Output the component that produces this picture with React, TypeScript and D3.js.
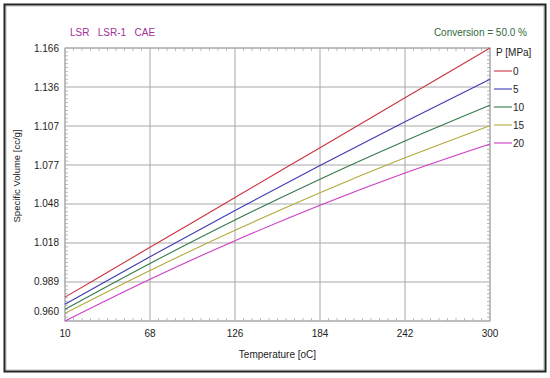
import React from "react";
import * as d3 from "d3";

const temperatures = [10, 68, 126, 184, 242, 300];
const xTickLabels = ["10", "68", "126", "184", "242", "300"];
const yTickValues = [0.96, 0.98943, 1.01886, 1.04829, 1.07771, 1.10714, 1.13657, 1.166];
const yTickLabels = ["0.960", "0.989", "1.018", "1.048", "1.077", "1.107", "1.136", "1.166"];
const pressures = ["0", "5", "10", "15", "20"];
const series0 = [0.978, 1.0156, 1.0532, 1.0908, 1.1284, 1.166];
const series5 = [0.9726, 1.0085, 1.0434, 1.0774, 1.1103, 1.1424];
const series10 = [0.9688, 1.0034, 1.0362, 1.067, 1.0958, 1.1228];
const series15 = [0.9658, 0.9981, 1.0284, 1.0568, 1.0831, 1.1074];
const series20 = [0.96, 0.9915, 1.0206, 1.0474, 1.0717, 1.0936];
const seriesColors = ["#cc3340", "#3b3bb4", "#347a4c", "#b2aa3c", "#cc3cc4"];
const allSeries = [series0, series5, series10, series15, series20];

const W = 550, H = 378;
const L = 65, R = 490, T = 48, B = 321;

export default function App() {
  const x = d3.scaleLinear().domain([10, 300]).range([L, R]);
  const y = d3.scaleLinear().domain([0.96, 1.166]).range([B, T]);
  const line = d3
    .line<number>()
    .x((_, i) => x(temperatures[i]))
    .y((d) => y(d))
    .curve(d3.curveMonotoneX);

  const xMinor: number[] = [];
  for (let i = 0; i < temperatures.length - 1; i++) {
    for (let k = 1; k < 10; k++) xMinor.push(temperatures[i] + (k * (temperatures[i + 1] - temperatures[i])) / 10);
  }
  const yMinor: number[] = [];
  for (let i = 0; i < yTickValues.length - 1; i++) {
    for (let k = 1; k < 10; k++) yMinor.push(yTickValues[i] + (k * (yTickValues[i + 1] - yTickValues[i])) / 10);
  }
  const font = "Liberation Sans, Arial, sans-serif";
  const grid = "#a8a8a8";

  return (
    <svg width={W} height={H} style={{ position: "absolute", left: 0, top: 0, background: "#fff" }} fontFamily={font}>
      <rect x={0} y={0} width={W} height={H} fill="#fff" />
      <rect x={4.5} y={4.5} width={541} height={367} fill="none" stroke="#222" strokeWidth={2} />
      <rect x={6} y={6} width={538} height={364} fill="none" stroke="#888" strokeWidth={0.6} />

      {/* grid */}
      {temperatures.map((t, i) => (
        <line key={"gx" + i} x1={x(t)} x2={x(t)} y1={T} y2={B} stroke={grid} strokeWidth={1} />
      ))}
      {yTickValues.map((v, i) => (
        <line key={"gy" + i} x1={L} x2={R} y1={y(v)} y2={y(v)} stroke={grid} strokeWidth={1} />
      ))}
      {/* minor ticks */}
      {xMinor.map((t, i) => (
        <g key={"mx" + i} stroke={grid} strokeWidth={0.8}>
          <line x1={x(t)} x2={x(t)} y1={T} y2={T + 3} />
          <line x1={x(t)} x2={x(t)} y1={B} y2={B - 3} />
        </g>
      ))}
      {yMinor.map((v, i) => (
        <g key={"my" + i} stroke={grid} strokeWidth={0.8}>
          <line x1={L} x2={L + 3} y1={y(v)} y2={y(v)} />
          <line x1={R} x2={R - 3} y1={y(v)} y2={y(v)} />
        </g>
      ))}
      <rect x={L} y={T} width={R - L} height={B - T} fill="none" stroke={grid} strokeWidth={1} />

      {/* series */}
      {allSeries.map((s, i) => (
        <path key={"s" + i} d={line(s) || ""} fill="none" stroke={seriesColors[i]} strokeWidth={1.1} />
      ))}

      {/* tick labels */}
      {yTickValues.map((v, i) => (
        <text key={"yl" + i} x={59} y={i === 0 ? y(v) - 6 : y(v) + 3.5} textAnchor="end" fontSize={10} fill="#222">
          {yTickLabels[i]}
        </text>
      ))}
      {temperatures.map((t, i) => (
        <text key={"xl" + i} x={x(t)} y={337} textAnchor="middle" fontSize={10} fill="#222">
          {xTickLabels[i]}
        </text>
      ))}

      <text x={277.5} y={358} textAnchor="middle" fontSize={10} fill="#222">
        Temperature [oC]
      </text>
      <text transform={`translate(20,176) rotate(-90)`} textAnchor="middle" fontSize={9.5} fill="#222">
        Specific Volume [cc/g]
      </text>

      <text x={70} y={36} fontSize={10} fill="#a0309a">
        LSR{"\u00a0\u00a0\u00a0"}LSR-1{"\u00a0\u00a0\u00a0"}CAE
      </text>
      <text x={527} y={36} textAnchor="end" fontSize={10} fill="#2e6a3a">
        Conversion = 50.0 %
      </text>

      {/* legend */}
      <text x={496} y={56} fontSize={10} fill="#222">
        P [MPa]
      </text>
      {pressures.map((p, i) => (
        <g key={"lg" + i}>
          <line x1={494} x2={512} y1={71 + i * 18} y2={71 + i * 18} stroke={seriesColors[i]} strokeWidth={1.1} />
          <text x={513} y={74.5 + i * 18} fontSize={10} fill="#222">
            {p}
          </text>
        </g>
      ))}
    </svg>
  );
}
